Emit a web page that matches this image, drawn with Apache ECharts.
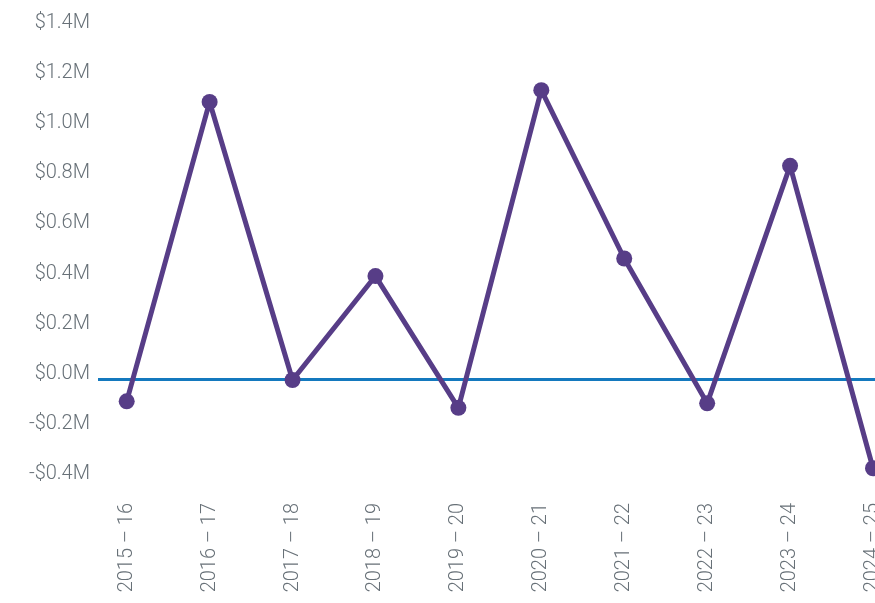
<!DOCTYPE html>
<html>
<head>
<meta charset="utf-8">
<script src="https://cdn.jsdelivr.net/npm/echarts@6/dist/echarts.min.js"></script>
<style>
  html, body { margin: 0; padding: 0; background: #ffffff; overflow: hidden; }
  #chart { width: 875px; height: 603px; }
</style>
</head>
<body>
<div id="chart"></div>
<script>
const categories = ['2015 – 16', '2016 – 17', '2017 – 18', '2018 – 19', '2019 – 20',
                    '2020 – 21', '2021 – 22', '2022 – 23', '2023 – 24', '2024 – 25'];
// values in millions of dollars
const values = [-0.09, 1.105, -0.005, 0.41, -0.116, 1.152, 0.48, -0.098, 0.85, -0.357];
const yTicks = { min: -0.4, max: 1.4, interval: 0.2 };
const categoryIndexes = [0, 1, 2, 3, 4, 5, 6, 7, 8, 9];

const chart = echarts.init(document.getElementById('chart'), null, { renderer: 'canvas' });

const labelColor = '#687178';
const fontFamily = 'Roboto, "Noto Sans", sans-serif';

chart.setOption({
  animation: false,
  backgroundColor: '#ffffff',
  grid: { left: 98, right: 0, top: 28, bottom: 124, containLabel: false, outerBoundsMode: 'none' },
  xAxis: {
    type: 'value',
    min: -0.346,
    max: 9.024,
    axisLine: { show: false },
    axisTick: { show: false },
    splitLine: { show: false },
    axisLabel: {
      customValues: categoryIndexes,
      rotate: 90,
      margin: 24,
      color: labelColor,
      fontFamily: fontFamily,
      fontSize: 20,
      fontWeight: 300,
      hideOverlap: false,
      formatter: function (v) { return categories[Math.round(v)]; }
    }
  },
  yAxis: {
    type: 'value',
    min: yTicks.min,
    max: yTicks.max,
    interval: yTicks.interval,
    axisLine: { show: false },
    axisTick: { show: false },
    splitLine: { show: false },
    axisLabel: {
      margin: 8,
      color: labelColor,
      fontFamily: fontFamily,
      fontSize: 20,
      fontWeight: 300,
      verticalAlign: 'bottom',
      lineHeight: 10,
      formatter: function (v) {
        const a = Math.abs(v).toFixed(1);
        return (v < -1e-9 ? '-' : '') + '$' + a + 'M';
      }
    }
  },
  series: [{
    type: 'line',
    data: categories.map(function (c, i) { return [categoryIndexes[i], values[i]]; }),
    symbol: 'circle',
    symbolSize: 16,
    clip: false,
    z: 3,
    lineStyle: { color: '#573d87', width: 5 },
    itemStyle: { color: '#573d87' },
    markLine: {
      z: 1,
      silent: true,
      symbol: ['none', 'none'],
      label: { show: false },
      lineStyle: { color: '#1479be', width: 3, type: 'solid' },
      data: [{ yAxis: 0 }]
    }
  }]
});
</script>
</body>
</html>
